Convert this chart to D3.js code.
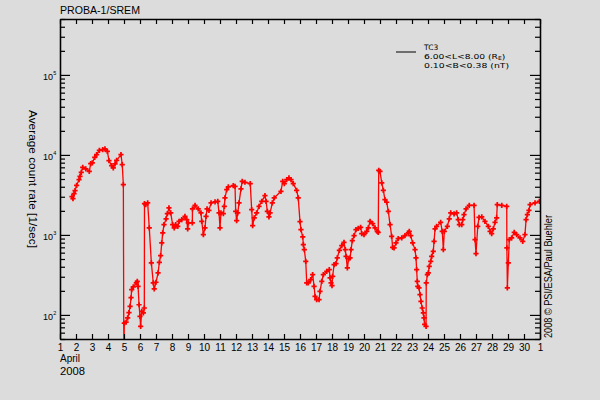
<!DOCTYPE html>
<html><head><meta charset="utf-8">
<script src="https://cdn.jsdelivr.net/npm/d3@7"></script>
<style>
html,body{margin:0;padding:0;background:#dcdcdc;}
text{font-family:"Liberation Sans",Arial,sans-serif;fill:#000;}
</style></head>
<body>
<svg id="chart" width="600" height="400"></svg>
<script>
// ---- data (day of April 2008 as fractional day, average count rate [1/sec]) ----
const days = [
1.75,1.81,1.88,1.94,2.04,2.19,2.25,2.33,2.42,2.61,2.83,2.92,3.02,3.17,3.29,3.46,3.67,3.81,3.96,4.06,
4.23,4.33,4.44,4.54,4.81,4.89,4.96,4.99,5.02,5.13,5.23,5.31,5.38,5.44,5.48,5.58,5.77,5.83,5.88,5.94,
6.00,6.04,6.11,6.21,6.27,6.28,6.36,6.48,6.58,6.71,6.83,6.89,7.00,7.13,7.21,7.29,7.36,7.42,7.50,7.63,
7.71,7.81,7.92,8.04,8.14,8.23,8.36,8.44,8.61,8.81,8.92,8.98,9.02,9.27,9.28,9.44,9.64,9.81,9.86,9.96,
10.06,10.13,10.19,10.31,10.44,10.69,10.86,10.94,11.00,11.06,11.21,11.27,11.31,11.42,11.52,11.83,11.94,11.98,12.04,12.11,
12.19,12.31,12.39,12.56,12.89,12.98,13.04,13.14,13.29,13.44,13.61,13.81,13.88,13.96,14.06,14.13,14.27,14.39,14.81,14.92,
15.02,15.17,15.31,15.44,15.58,15.79,15.89,16.00,16.06,16.17,16.21,16.27,16.36,16.42,16.52,16.67,16.79,16.88,16.94,17.04,
17.19,17.25,17.36,17.46,17.67,17.83,17.88,17.94,18.00,18.04,18.13,18.25,18.33,18.46,18.61,18.75,18.83,18.88,18.96,19.04,
19.13,19.19,19.27,19.38,19.50,19.64,19.79,19.86,20.00,20.17,20.27,20.38,20.54,20.69,20.83,20.89,20.92,21.00,21.11,21.21,
21.31,21.42,21.52,21.63,21.73,21.79,21.88,22.00,22.14,22.36,22.56,22.77,22.83,22.92,23.04,23.19,23.25,23.29,23.33,23.36,
23.44,23.50,23.56,23.64,23.71,23.75,23.79,23.88,23.89,23.96,24.02,24.08,24.17,24.23,24.33,24.38,24.44,24.54,24.79,24.89,
24.96,25.02,25.21,25.33,25.42,25.63,25.79,25.89,25.96,26.11,26.17,26.25,26.38,26.58,26.88,26.94,27.00,27.11,27.19,27.36,
27.56,27.77,27.88,27.98,28.08,28.19,28.29,28.33,28.61,28.92,28.93,28.96,29.02,29.08,29.23,29.39,29.54,29.75,29.92,30.06,
30.13,30.21,30.31,30.38,30.69,30.96
];
const rates = [
3010,2840,3280,3580,4170,4910,5400,6060,7000,6680,6240,7780,7940,9330,10090,11420,11650,11890,11090,8490,
7350,6880,7720,8560,10090,7560,4260,30,79,81,92,107,128,164,207,224,251,263,228,134,
96,72,111,106,122,2460,2390,2510,1224,447,251,211,256,335,455,551,794,1059,1345,1585,
1846,2175,1884,1345,1224,1345,1282,1479,1553,1709,1553,1189,1413,1413,2113,2344,2113,1884,1479,1009,
1224,1709,2113,2030,2512,2587,2630,1884,1224,1884,1846,2278,2900,3680,3980,4130,4050,1972,1510,1884,
2512,3760,4680,4550,4380,2070,1306,1632,1884,2278,2630,3100,2630,1972,1679,1884,2512,2900,3510,4680,
4380,4910,5160,4910,4380,3610,2900,1466,1164,944,756,655,468,251,251,276,319,228,171,155,
155,197,263,319,351,368,290,251,232,304,425,438,516,642,735,809,655,540,387,501,
516,655,849,980,1164,1210,1245,1038,1009,1109,1224,1479,1384,1224,1109,1078,6420,6240,4470,3610,
2760,2560,1972,1345,961,700,688,794,899,918,980,1059,1109,980,794,655,516,368,263,228,
218,179,148,122,106,92,76,72,251,319,335,405,468,540,624,832,1189,1282,1439,1109,
655,1109,1282,1585,1884,1832,1884,1553,1345,1345,1553,1795,2113,2344,2344,873,583,1282,1660,1679,
1479,1282,1109,1038,1189,1439,1632,2390,2344,2278,688,218,447,873,918,1078,1009,918,832,1009,
1553,1795,2030,2390,2512,2630
];
const xTickValues = d3.range(1, 32);
const xTickLabels = ["1","2","3","4","5","6","7","8","9","10","11","12","13","14","15","16","17","18","19","20",
  "21","22","23","24","25","26","27","28","29","30","1"];
const yMajorTicks = [100, 1000, 10000, 100000];
const yMajorExponents = ["2","3","4","5"];
const titleText = "PROBA-1/SREM";
const yTitle = "Average count rate [1/sec]";
const monthLabel = "April";
const yearLabel = "2008";
const seriesName = "TC3";
const legendLine2 = "6.00<L<8.00 (R";
const legendLine2Sub = "E";
const legendLine3 = "0.10<B<0.38 (nT)";
const credit = "2008 \u00A9 PSI/ESA/Paul Buehler";

// ---- layout ----
const W = 600, H = 400;
const m = {left: 60, top: 19, right: 60, bottom: 61};
const pw = W - m.left - m.right, ph = H - m.top - m.bottom;
const svg = d3.select("#chart");
svg.append("rect").attr("width", W).attr("height", H).attr("fill", "#dcdcdc");

const x = d3.scaleLinear().domain([1, 31]).range([m.left, m.left + pw]);
const y = d3.scaleLog().domain([50, 500000]).range([m.top + ph, m.top]);

const yMinor = [];
[10, 100, 1000, 10000, 100000].forEach(dec => {
  for (let k = 2; k <= 9; k++) { const v = dec * k; if (v >= 50 && v <= 500000) yMinor.push(v); }
});

svg.append("clipPath").attr("id", "clip").append("rect")
  .attr("x", m.left).attr("y", m.top).attr("width", pw).attr("height", ph);

const data = days.map((d, i) => ({d, v: rates[i]}));
const line = d3.line().x(p => x(p.d)).y(p => y(p.v));
const g = svg.append("g").attr("clip-path", "url(#clip)");
g.append("path").datum(data).attr("d", line)
  .attr("fill", "none").attr("stroke", "#ff0000").attr("stroke-width", 1.3);
const sym = d3.symbol().type(d3.symbolCross).size(15);
g.selectAll("path.m").data(data.filter(p => p.v >= 50)).join("path").attr("class", "m")
  .attr("d", sym).attr("transform", p => `translate(${x(p.d)},${y(p.v)})`)
  .attr("fill", "#ff0000");

const axisColor = "#000";
const xb = svg.append("g").attr("transform", `translate(0,${m.top + ph})`)
  .call(d3.axisBottom(x).tickValues(xTickValues).tickSizeInner(-5).tickSizeOuter(0)
    .tickPadding(11).tickFormat((d, i) => xTickLabels[i]));
xb.selectAll("text").attr("font-size", 10).attr("dy", 0).attr("y", 12);
svg.append("g").attr("transform", `translate(0,${m.top})`)
  .call(d3.axisTop(x).tickValues(xTickValues).tickSizeInner(-5).tickSizeOuter(0).tickFormat(""));
svg.append("g").attr("transform", `translate(${m.left},0)`)
  .call(d3.axisLeft(y).tickValues(yMajorTicks).tickSizeInner(-10).tickSizeOuter(0).tickFormat(""));
svg.append("g").attr("transform", `translate(${m.left},0)`)
  .call(d3.axisLeft(y).tickValues(yMinor).tickSizeInner(-5).tickSizeOuter(0).tickFormat(""));
svg.append("g").attr("transform", `translate(${m.left + pw},0)`)
  .call(d3.axisRight(y).tickValues(yMajorTicks).tickSizeInner(-10).tickSizeOuter(0).tickFormat(""));
svg.append("g").attr("transform", `translate(${m.left + pw},0)`)
  .call(d3.axisRight(y).tickValues(yMinor).tickSizeInner(-5).tickSizeOuter(0).tickFormat(""));
svg.selectAll(".domain").attr("stroke", axisColor).attr("stroke-width", 1.3);
svg.selectAll(".tick line").attr("stroke", axisColor).attr("stroke-width", 1.2);

// y major labels 10^n as one text each
yMajorTicks.forEach((v, i) => {
  const t = svg.append("text").attr("x", 43).attr("y", y(v) + 5).attr("font-size", 9);
  t.append("tspan").text("10");
  t.append("tspan").attr("font-size", 5.5).attr("dy", -4.5).attr("dx", 0.3).text(yMajorExponents[i]);
});

// titles
svg.append("text").attr("x", 60).attr("y", 14).attr("font-size", 10.5)
  .attr("textLength", 80).attr("lengthAdjust", "spacingAndGlyphs").text(titleText);
svg.append("text").attr("transform", "translate(29,110) rotate(90)").attr("font-size", 10)
  .attr("textLength", 138).attr("lengthAdjust", "spacingAndGlyphs").text(yTitle);
svg.append("text").attr("x", 60).attr("y", 361.7).attr("font-size", 10.5)
  .attr("textLength", 20).attr("lengthAdjust", "spacingAndGlyphs").text(monthLabel);
svg.append("text").attr("x", 60).attr("y", 375).attr("font-size", 10.5)
  .attr("textLength", 25).attr("lengthAdjust", "spacingAndGlyphs").text(yearLabel);

// legend
const lf = "'DejaVu Sans', sans-serif";
svg.append("line").attr("x1", 396).attr("x2", 416).attr("y1", 52).attr("y2", 52)
  .attr("stroke", "#000").attr("stroke-width", 1);
svg.append("text").attr("transform", "translate(424,49.5) scale(1.0,1)")
  .style("font-family", lf).attr("font-size", 7.5).text(seriesName);
const l2 = svg.append("text").attr("transform", "translate(424,58.5) scale(1.22,1)")
  .style("font-family", lf).attr("font-size", 7.5);
l2.append("tspan").text(legendLine2);
l2.append("tspan").attr("font-size", 5).attr("dy", 1.5).text(legendLine2Sub);
l2.append("tspan").attr("dy", -1.5).text(")");
svg.append("text").attr("transform", "translate(424,67.5) scale(1.24,1)")
  .style("font-family", lf).attr("font-size", 7.5).text(legendLine3);

// credit
svg.append("text").attr("transform", "translate(552,338) rotate(-90)").attr("font-size", 10)
  .attr("textLength", 123).attr("lengthAdjust", "spacingAndGlyphs").text(credit);
</script>
</body></html>
